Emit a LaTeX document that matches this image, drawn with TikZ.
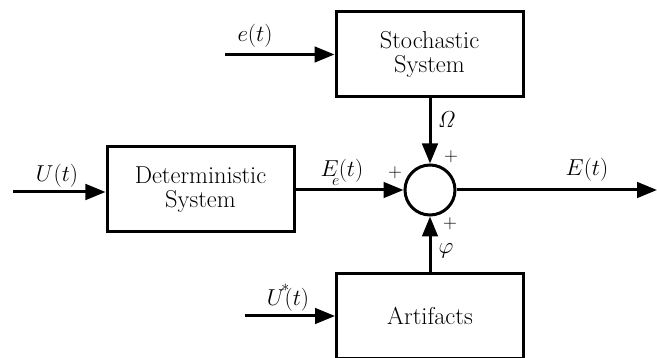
\documentclass[tikz,border=0pt]{standalone}
\usetikzlibrary{arrows.meta}
\begin{document}
\begin{tikzpicture}[x=0.9pt,y=-0.9pt,
  blk/.style={draw, line width=2.7pt, minimum width=168.3pt, minimum height=76.5pt,
    align=center, font=\fontsize{22}{22}\selectfont, inner sep=0pt},
  sumc/.style={draw, circle, line width=2.7pt, minimum size=45pt, inner sep=0pt},
  conn/.style={line width=2.7pt, -{Triangle[length=18pt,width=14pt]}},
  lbl/.style={font=\fontsize{22}{22}\selectfont, inner sep=0pt},
  pls/.style={font=\fontsize{16}{18}\selectfont, inner sep=0pt}]
\useasboundingbox (0,0) rectangle (657,358);

\node[blk] (det) at (200.5,189.5) {Deterministic\\System};
\node[blk] (sto) at (429.5,54.5) {Stochastic\\System};
\node[blk] (art) at (430,316) {Artifacts};
\node[sumc] (sum) at (430,190) {};

\coordinate (uin) at (13,192);
\coordinate (ein) at (225,54.5);
\coordinate (usin) at (245,316);
\coordinate (eout) at (657,190);

\draw[conn] (uin) -- (uin -| det.west);
\draw[conn] (ein) -- (ein -| sto.west);
\draw[conn] (usin) -- (usin -| art.west);
\draw[conn] (det.east |- sum.west) -- (sum.west);
\draw[conn] (sto.south -| sum.north) -- (sum.north);
\draw[conn] (art.north -| sum.south) -- (sum.south);
\draw[conn] (sum.east) -- (eout);

\node[lbl] (lu) at (57,176) {$U(t)$};
\node[lbl] (le) at (255,36) {$e(t)$};
\node[lbl] (lus) at (288,298) {$U\rlap{\kern-3pt\raisebox{5pt}{$^*$}}(t)$};
\node[lbl] (lee) at (342,172) {$E\rlap{\kern-6pt\raisebox{-8pt}{$\scriptstyle e$}}(t)$};
\node[lbl] (lE) at (587,170) {$E(t)$};
\node[lbl] (lom) at (447,120) {$\mathit{\Omega}$};
\node[lbl] (lphi) at (446,251) {$\varphi$};

\node[pls] (p1) at (395,173) {$+$};
\node[pls] (p2) at (451,157) {$+$};
\node[pls] (p3) at (450,224) {$+$};
\end{tikzpicture}
\end{document}
